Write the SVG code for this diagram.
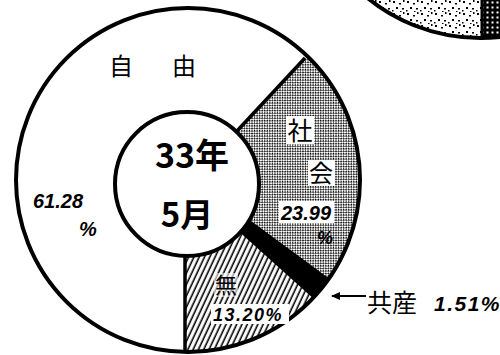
<svg xmlns="http://www.w3.org/2000/svg" width="500" height="355" viewBox="0 0 500 355">
<style>
.jp{font-family:"Noto Sans CJK JP","Noto Sans",sans-serif;fill:#000}
.num{font-family:"Liberation Sans",Arial,sans-serif;font-style:italic;font-weight:bold;fill:#000}
.ring{fill:none;stroke:#000;stroke-width:4}
.edge{stroke:#000;stroke-width:3.5;fill:none}
</style>
<defs>
<pattern id="mesh" patternUnits="userSpaceOnUse" width="3.6" height="3.6" patternTransform="rotate(45)">
<rect width="3.6" height="3.6" fill="#fff"/>
<rect x="0" y="0" width="1.6" height="1.6" fill="#000"/>
<rect x="1.8" y="1.8" width="1.6" height="1.6" fill="#000"/>
</pattern>
<pattern id="hatch" patternUnits="userSpaceOnUse" width="4.8" height="10" patternTransform="rotate(25)">
<rect width="4.8" height="10" fill="#fff"/>
<line x1="1.2" y1="0" x2="1.2" y2="10" stroke="#000" stroke-width="1.6"/>
</pattern>
<pattern id="stipple" patternUnits="userSpaceOnUse" width="14" height="12">
<rect width="14" height="12" fill="#fff"/>
<rect x="1" y="1" width="2" height="2" fill="#000"/>
<rect x="7" y="3" width="2" height="1.5" fill="#000"/>
<rect x="11" y="0" width="1.5" height="2" fill="#000"/>
<rect x="4" y="7" width="2" height="2" fill="#000"/>
<rect x="10" y="8" width="2" height="1.5" fill="#000"/>
<rect x="0" y="10" width="1.5" height="1.5" fill="#000"/>
<rect x="8" y="11" width="1.5" height="1" fill="#000"/>
</pattern>
<pattern id="dots" patternUnits="userSpaceOnUse" width="5" height="5">
<rect width="5" height="5" fill="#000"/>
<rect x="1.5" y="1.5" width="2" height="2" fill="#fff"/>
</pattern>
<clipPath id="outerClip"><circle cx="188" cy="180" r="172"/></clipPath>
<clipPath id="trClip"><circle cx="480" cy="-140" r="178"/></clipPath>
<marker id="arrowL" markerWidth="9" markerHeight="8" refX="1" refY="4" orient="auto" markerUnits="userSpaceOnUse">
<path d="M0,4 L9,0 L9,8 Z" fill="#000"/>
</marker>
</defs>

<g id="other-chart">
<circle cx="480" cy="-140" r="178" fill="url(#stipple)"/>
<rect x="482" y="0" width="20" height="60" fill="url(#dots)" clip-path="url(#trClip)"/>
<line x1="482" y1="0" x2="482" y2="40" stroke="#000" stroke-width="3"/>
<circle cx="480" cy="-140" r="178" class="ring"/>
</g>

<g id="main-ring">
<circle cx="188" cy="180" r="172" fill="#fff"/>
<g clip-path="url(#outerClip)">
<path id="slice-shakai" d="M185,183 L323.9,39.1 A200,200 0 0 1 351.5,295.0 Z" fill="url(#mesh)"/>
<path id="slice-kyosan" d="M190,176 L351.5,295.0 A200,200 0 0 1 333.6,316.8 L180,190 Z" fill="#000"/>
<path id="slice-mu" d="M185,183 L333.6,316.8 A200,200 0 0 1 185,383 Z" fill="url(#hatch)"/>
</g>
<line class="edge" x1="237" y1="131" x2="305" y2="58"/>
<line class="edge" x1="185" y1="250" x2="185" y2="353"/>
<circle cx="188" cy="180" r="172" class="ring"/>
</g>

<g id="label-jiyu">
<text class="jp" x="121" y="75" font-size="24" text-anchor="middle">自</text>
<text class="jp" x="184" y="75" font-size="24" text-anchor="middle">由</text>
<text class="num" x="33" y="208" font-size="20">61.28</text>
<text class="num" x="88" y="236" font-size="20" text-anchor="middle">%</text>
</g>

<g id="label-shakai">
<rect x="286" y="116" width="28" height="28" fill="#fff"/>
<rect x="308" y="160" width="27" height="26" fill="#fff"/>
<rect x="279" y="201" width="55" height="22" fill="#fff"/>
<text class="jp" x="300" y="140" font-size="25" text-anchor="middle">社</text>
<text class="jp" x="321" y="182" font-size="24" text-anchor="middle">会</text>
<text class="num" x="306" y="220" font-size="20" text-anchor="middle">23.99</text>
<text class="num" x="325" y="244" font-size="18" text-anchor="middle">%</text>
</g>

<g id="label-mu">
<rect x="214" y="273" width="24" height="24" fill="#fff" opacity="0.6"/>
<rect x="211" y="304" width="78" height="20" fill="#fff"/>
<text class="jp" x="226" y="293" font-size="22" text-anchor="middle">無</text>
<text class="num" x="213" y="321" font-size="18" letter-spacing="1.5">13.20%</text>
</g>

<g id="center">
<circle cx="187" cy="184" r="72" fill="#fff" stroke="#000" stroke-width="4"/>
<text class="jp" x="192" y="168" font-size="34" font-weight="bold" text-anchor="middle">33年</text>
<text class="jp" x="187" y="227" font-size="33" font-weight="bold" text-anchor="middle">5月</text>
</g>

<g id="connectors">
<line x1="332" y1="296" x2="366" y2="296" stroke="#000" stroke-width="2" marker-start="url(#arrowL)"/>
</g>

<g id="label-kyosan">
<text class="jp" x="367" y="312" font-size="25">共産</text>
<text class="num" x="434" y="311" font-size="21" letter-spacing="1.5">1.51%</text>
</g>
</svg>
